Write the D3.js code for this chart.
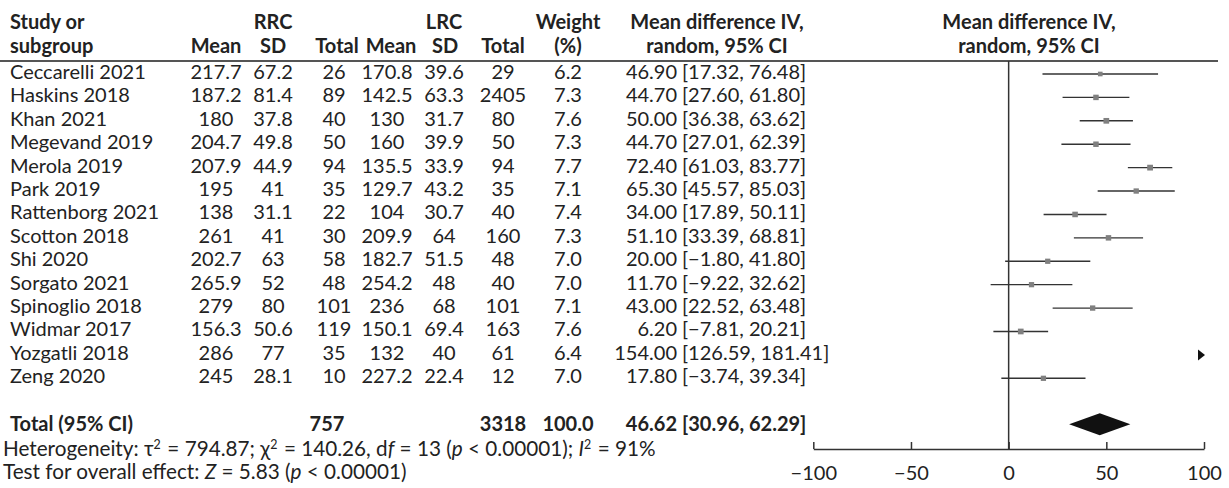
<!DOCTYPE html>
<html>
<head>
<meta charset="utf-8">
<script src="https://cdn.jsdelivr.net/npm/d3@7"></script>
<style>
  html, body { margin: 0; padding: 0; background: #fff; }
  svg { display: block; }
  text { font-family: Lato, "Open Sans", sans-serif; fill: #222; }
</style>
</head>
<body>
<svg id="chart" width="1229" height="488"></svg>
<script>
// Study-level data: robotic (RRC) vs laparoscopic (LRC) right colectomy, operative time
const studies  = ["Ceccarelli 2021", "Haskins 2018", "Khan 2021", "Megevand 2019", "Merola 2019",
                  "Park 2019", "Rattenborg 2021", "Scotton 2018", "Shi 2020", "Sorgato 2021",
                  "Spinoglio 2018", "Widmar 2017", "Yozgatli 2018", "Zeng 2020"];
const rrcMean  = ["217.7", "187.2", "180", "204.7", "207.9", "195", "138", "261", "202.7", "265.9", "279", "156.3", "286", "245"];
const rrcSD    = ["67.2", "81.4", "37.8", "49.8", "44.9", "41", "31.1", "41", "63", "52", "80", "50.6", "77", "28.1"];
const rrcTotal = [26, 89, 40, 50, 94, 35, 22, 30, 58, 48, 101, 119, 35, 10];
const lrcMean  = ["170.8", "142.5", "130", "160", "135.5", "129.7", "104", "209.9", "182.7", "254.2", "236", "150.1", "132", "227.2"];
const lrcSD    = ["39.6", "63.3", "31.7", "39.9", "33.9", "43.2", "30.7", "64", "51.5", "48", "68", "69.4", "40", "22.4"];
const lrcTotal = [29, 2405, 80, 50, 94, 35, 40, 160, 48, 40, 101, 163, 61, 12];
const weights  = [6.2, 7.3, 7.6, 7.3, 7.7, 7.1, 7.4, 7.3, 7.0, 7.0, 7.1, 7.6, 6.4, 7.0];
const meanDiff = [46.90, 44.70, 50.00, 44.70, 72.40, 65.30, 34.00, 51.10, 20.00, 11.70, 43.00, 6.20, 154.00, 17.80];
const ciLower  = [17.32, 27.60, 36.38, 27.01, 61.03, 45.57, 17.89, 33.39, -1.80, -9.22, 22.52, -7.81, 126.59, -3.74];
const ciUpper  = [76.48, 61.80, 63.62, 62.39, 83.77, 85.03, 50.11, 68.81, 41.80, 32.62, 63.48, 20.21, 181.41, 39.34];

// Pooled (random-effects) result
const totalRrc = 757;
const totalLrc = 3318;
const totalWeight = 100.0;
const pooledMD = 46.62;
const pooledLo = 30.96;
const pooledHi = 62.29;

const axisTicks = [-100, -50, 0, 50, 100];

const fmt2 = d3.format(".2f");
const fmt1 = d3.format(".1f");
const minus = s => s.replace("-", "\u2212");

const svg = d3.select("#chart");
const FS = 20;
const FS_NOTE = 20.7;

// Scales
const x = d3.scaleLinear().domain([-100, 100]).range([813.3, 1204]);
const y = d3.scalePoint().domain(studies).range([74, 378.3]);
const baseOff = 5;   // text baseline sits a little below the row's line

// Column anchors
const col = {
  study: 10, rrcMean: 216, rrcSD: 273, rrcTotal: 334,
  lrcMean: 387, lrcSD: 444, lrcTotal: 503, weight: 568,
  mdEst: 677, mdCI: 682, plotHead: 1029
};

// ----- Header -----
const head = svg.append("g").attr("font-weight", "bold").attr("font-size", FS);
const h1 = 29, h2 = 53;
head.append("text").attr("x", col.study).attr("y", h1).text("Study or");
head.append("text").attr("x", col.study).attr("y", h2).text("subgroup");
head.append("text").attr("x", col.rrcSD).attr("y", h1).attr("text-anchor", "middle").text("RRC");
head.append("text").attr("x", col.lrcSD).attr("y", h1).attr("text-anchor", "middle").text("LRC");
[["Mean", 216], ["SD", 273], ["Total", 337], ["Mean", 391], ["SD", 445], ["Total", 503]].forEach(([t, cx]) =>
  head.append("text").attr("x", cx).attr("y", h2).attr("text-anchor", "middle").text(t));
head.append("text").attr("x", col.weight).attr("y", h1).attr("text-anchor", "middle").text("Weight");
head.append("text").attr("x", col.weight).attr("y", h2).attr("text-anchor", "middle").text("(%)");
head.append("text").attr("x", 717).attr("y", h1).attr("text-anchor", "middle").text("Mean difference IV,");
head.append("text").attr("x", 717).attr("y", h2).attr("text-anchor", "middle").text("random, 95% CI");
head.append("text").attr("x", col.plotHead).attr("y", h1).attr("text-anchor", "middle").text("Mean difference IV,");
head.append("text").attr("x", col.plotHead).attr("y", h2).attr("text-anchor", "middle").text("random, 95% CI");

svg.append("line").attr("x1", 0).attr("x2", 1218).attr("y1", 61).attr("y2", 61)
  .attr("stroke", "#555").attr("stroke-width", 2);

// ----- Study rows -----
const rows = svg.append("g").attr("font-size", FS);
studies.forEach((s, i) => {
  const by = y(s) + baseOff;
  const cell = (txt, cx, anchor = "middle") =>
    rows.append("text").attr("x", cx).attr("y", by).attr("text-anchor", anchor).text(txt);
  cell(s, col.study, "start");
  cell(rrcMean[i], col.rrcMean);
  cell(rrcSD[i], col.rrcSD);
  cell(rrcTotal[i], col.rrcTotal);
  cell(lrcMean[i], col.lrcMean);
  cell(lrcSD[i], col.lrcSD);
  cell(lrcTotal[i], col.lrcTotal);
  cell(fmt1(weights[i]), col.weight);
  cell(fmt2(meanDiff[i]), col.mdEst, "end");
  cell("[" + minus(fmt2(ciLower[i])) + ", " + minus(fmt2(ciUpper[i])) + "]", col.mdCI, "start");
});

// ----- Forest plot -----
const plot = svg.append("g");
const axisY = 449;

// line of no effect
plot.append("line").attr("x1", x(0)).attr("x2", x(0)).attr("y1", 61).attr("y2", axisY)
  .attr("stroke", "#333").attr("stroke-width", 1.5);

const [xmin, xmax] = x.domain();
studies.forEach((s, i) => {
  const cy = y(s);
  if (ciLower[i] > xmax) {
    // interval entirely beyond the axis: draw an arrow at the right edge
    const tip = x(xmax) + 1;
    plot.append("path")
      .attr("d", `M${tip - 7},${cy - 5.5}L${tip},${cy}L${tip - 7},${cy + 5.5}Z`)
      .attr("fill", "#111");
    return;
  }
  const lo = Math.max(ciLower[i], xmin), hi = Math.min(ciUpper[i], xmax);
  plot.append("line").attr("x1", x(lo)).attr("x2", x(hi)).attr("y1", cy).attr("y2", cy)
    .attr("stroke", "#333").attr("stroke-width", 1.4);
  const side = weights[i] * 0.75;
  plot.append("rect").attr("x", x(meanDiff[i]) - side / 2).attr("y", cy - side / 2)
    .attr("width", side).attr("height", side).attr("fill", "#808080");
});

// pooled diamond
const dy = 424.3;
plot.append("path")
  .attr("d", `M${x(pooledLo)},${dy}L${x(pooledMD)},${dy - 11}L${x(pooledHi)},${dy}L${x(pooledMD)},${dy + 11}Z`)
  .attr("fill", "#111");

// x axis
const axis = d3.axisBottom(x).tickValues(axisTicks).tickSize(0).tickPadding(0)
  .tickFormat(d => minus(String(d)));
const ax = plot.append("g").attr("transform", `translate(0,${axisY})`).call(axis);
ax.select(".domain").attr("stroke", "#333").attr("stroke-width", 1.5);
ax.selectAll(".tick line").attr("y1", 0).attr("y2", -7).attr("stroke", "#333").attr("stroke-width", 1.5);
ax.selectAll(".tick text").attr("y", 31).attr("dy", 0).attr("font-size", FS)
  .attr("font-family", "Lato, 'Open Sans', sans-serif").attr("fill", "#222");

// ----- Total row -----
const tot = svg.append("g").attr("font-size", FS).attr("font-weight", "bold");
const ty = 430.5;
tot.append("text").attr("x", col.study).attr("y", ty).text("Total (95% CI)");
tot.append("text").attr("x", col.rrcTotal - 7).attr("y", ty).attr("text-anchor", "middle").text(totalRrc);
tot.append("text").attr("x", col.lrcTotal).attr("y", ty).attr("text-anchor", "middle").text(totalLrc);
tot.append("text").attr("x", col.weight).attr("y", ty).attr("text-anchor", "middle").text(fmt1(totalWeight));
tot.append("text").attr("x", col.mdEst).attr("y", ty).attr("text-anchor", "end").text(fmt2(pooledMD));
tot.append("text").attr("x", col.mdCI).attr("y", ty).attr("text-anchor", "start")
  .text("[" + fmt2(pooledLo) + ", " + fmt2(pooledHi) + "]");

// ----- Footnotes -----
function rich(yPos, parts) {
  const t = svg.append("text").attr("x", 3).attr("y", yPos).attr("font-size", FS_NOTE);
  parts.forEach(p => {
    if (typeof p === "string") { t.append("tspan").text(p); return; }
    const sp = t.append("tspan").text(p.t);
    if (p.i) sp.attr("font-style", "italic");
    if (p.sup) {
      sp.attr("font-size", FS_NOTE * 0.6).attr("dy", -7);
      t.append("tspan").attr("dy", 7).text("\u200a");
    }
  });
}
rich(456, ["Heterogeneity: \u03c4", {t: "2", sup: true}, " = 794.87; \u03c7", {t: "2", sup: true},
           " = 140.26, d", {t: "f", i: true}, " = 13 (", {t: "p", i: true}, " < 0.00001); ",
           {t: "I", i: true}, {t: "2", sup: true}, " = 91%"]);
rich(479, ["Test for overall effect: ", {t: "Z", i: true}, " = 5.83 (", {t: "p", i: true}, " < 0.00001)"]);
</script>
</body>
</html>
